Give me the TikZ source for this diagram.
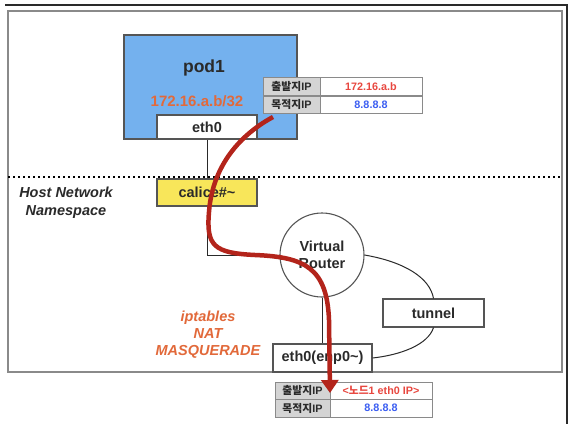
\documentclass[tikz,border=0pt]{standalone}
\usepackage{fontspec}
\setmainfont{Liberation Sans}
\newfontfamily\kr{Noto Sans CJK KR}
\usetikzlibrary{arrows.meta}
\definecolor{podblue}{HTML}{74B1EE}
\definecolor{calyel}{HTML}{F8E65A}
\definecolor{orng}{HTML}{E2693A}
\definecolor{tred}{HTML}{E8473F}
\definecolor{tblue}{HTML}{3B5EF2}
\definecolor{arrred}{HTML}{B3241B}
\definecolor{cellgray}{HTML}{D4D4D4}
\definecolor{framegray}{HTML}{8A8A8A}
\definecolor{boxline}{HTML}{555555}
\definecolor{txt}{HTML}{2A2A2A}
\tikzset{
  box/.style={draw=boxline, line width=1.1pt, fill=white, inner sep=0pt, text=txt,
    font=\bfseries\fontsize{14.5}{16}\selectfont},
  conn/.style={draw=txt, line width=1pt},
  cell/.style={draw=framegray, line width=1pt, inner sep=0pt, minimum height=18pt,
    font=\bfseries\fontsize{10.8}{12}\selectfont, text=txt},
  graycell/.style={cell, fill=cellgray, minimum width=57pt},
  valcell/.style={cell, fill=white, minimum width=102pt},
  redpath/.style={draw=arrred, line width=4.5pt, -{Triangle[length=13pt,width=17pt]}},
}
\begin{document}
\begin{tikzpicture}[x=1pt,y=-1pt]
\useasboundingbox[fill=white] (0,0) rectangle (572,424);
% frames
\draw[draw=txt, line width=1.2pt] (5,5) -- (567,5) -- (567,424);
\draw[draw=framegray, line width=1.6pt] (8,11) rectangle (562,372);
% pod
\node[draw=boxline, line width=1.2pt, fill=podblue, minimum width=173pt, minimum height=104pt, inner sep=0pt] (pod) at (210.5,87) {};
\node[text=txt, font=\bfseries\fontsize{17.5}{20}\selectfont] (podname) at (204,68) {pod1};
\node[text=orng, font=\bfseries\fontsize{15}{18}\selectfont] (podip) at (197,101) {172.16.a.b/32};
\node[box, minimum width=100pt, minimum height=24pt] (eth) at (207,127) {eth0};
% dotted separator
\coordinate (sepL) at (8,177);
\coordinate (sepR) at (562,177);
\draw[line width=2pt, dash pattern=on 2pt off 3pt, draw=black] (sepL) -- (sepR);
\node[text=txt, align=center, font=\bfseries\itshape\fontsize{14.5}{18}\selectfont] (hns) at (66,203) {Host Network\\Namespace};
% calico
\node[box, fill=calyel, minimum width=100pt, minimum height=27pt] (cal) at (207,192.5) {calice\#\textasciitilde};
% router
\node[draw=boxline, line width=1.1pt, circle, minimum size=84pt, inner sep=0pt, fill=white, align=center, text=txt,
  font=\bfseries\fontsize{14.5}{17}\selectfont] (vr) at (322,255) {Virtual\\Router};
\node[box, minimum width=99pt, minimum height=28pt] (enp) at (322.5,358) {eth0(enp0\textasciitilde)};
\node[box, minimum width=101pt, minimum height=28pt] (tun) at (433.5,313) {tunnel};
% connectors
\coordinate (corner) at (207,255);
\draw[conn] (eth.south) -- (cal.north);
\draw[conn] (cal.south) -- (corner) -- (vr.west);
\draw[conn] (vr.south) -- (vr.south |- enp.north);
\draw[conn] (vr.east) .. controls (405,262) and (430,278) .. (tun.north);
\draw[conn] (tun.south) .. controls (428,345) and (400,355) .. (enp.east);
% NAT label
\node[text=orng, align=center, font=\bfseries\itshape\fontsize{14.5}{17}\selectfont] (nat) at (208,335) {iptables\\NAT\\MASQUERADE};
% table 1
\node[graycell] (t1a) at (291.5,86.5) {{\kr 출발지}IP};
\node[valcell, text=tred] (t1b) at (371,86.5) {172.16.a.b};
\node[graycell, minimum height=17pt] (t1c) at (291.5,104.5) {{\kr 목적지}IP};
\node[valcell, minimum height=17pt, text=tblue] (t1d) at (371,104.5) {8.8.8.8};
% table 2
\node[graycell, minimum width=55pt, minimum height=17.5pt] (t2a) at (302.5,390.75) {{\kr 출발지}IP};
\node[valcell, minimum height=17.5pt, text=tred] (t2b) at (381,390.75) {<{\kr 노드}1 eth0 IP>};
\node[graycell, minimum width=55pt, minimum height=17.5pt] (t2c) at (302.5,408.25) {{\kr 목적지}IP};
\node[valcell, minimum height=17.5pt, text=tblue] (t2d) at (381,408.25) {8.8.8.8};
% red flow
\coordinate (rs) at (273,117);
\coordinate (re) at (330,393);
\draw[redpath] (rs) .. controls (236,137) and (212,170) .. (209,212) .. controls (206,246) and (214,253) .. (255,255) .. controls (305,257) and (327,268) .. (329,320) -- (re);
\end{tikzpicture}
\end{document}
